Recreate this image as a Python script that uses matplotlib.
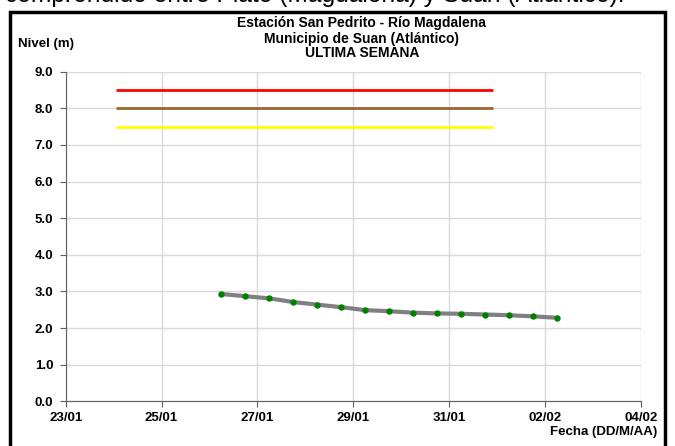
import matplotlib
matplotlib.use("Agg")
import matplotlib.pyplot as plt
import matplotlib.dates as mdates
from matplotlib.patches import Rectangle
import pandas as pd

plt.rcParams["font.family"] = ["Liberation Sans", "DejaVu Sans"]

# measured levels (m), every 12 h
fechas = ["2011-01-26 06:00", "2011-01-26 18:00", "2011-01-27 06:00", "2011-01-27 18:00",
          "2011-01-28 06:00", "2011-01-28 18:00", "2011-01-29 06:00", "2011-01-29 18:00",
          "2011-01-30 06:00", "2011-01-30 18:00", "2011-01-31 06:00", "2011-01-31 18:00",
          "2011-02-01 06:00", "2011-02-01 18:00", "2011-02-02 06:00"]
nivel = [2.93, 2.87, 2.81, 2.71, 2.64, 2.57, 2.49, 2.46, 2.42, 2.40, 2.39, 2.37, 2.35, 2.32, 2.28]

# alert thresholds
umbral_inicio = "2011-01-24 01:00"
umbral_fin = "2011-01-31 22:00"
umbral_valores = [8.5, 8.0, 7.5]
umbral_colores = ["#ff0000", "#996633", "#ffff00"]

titulo = ["Estación San Pedrito - Río Magdalena", "Municipio de Suan (Atlántico)", "ULTIMA SEMANA"]

x_min, x_max = "2011-01-23", "2011-02-04"

fig = plt.figure(figsize=(6.75, 4.46), dpi=100)
ax = fig.add_axes([0.0973, 0.1002, 0.8523, 0.739])

t = pd.to_datetime(fechas)
t0, t1 = pd.to_datetime(umbral_inicio), pd.to_datetime(umbral_fin)
for v, c in zip(umbral_valores, umbral_colores):
    ax.plot([t0, t1], [v, v], color=c, lw=2, solid_capstyle="butt", zorder=3)

ax.plot(t, nivel, color="#808080", lw=3, zorder=3)
ax.plot(t, nivel, "o", color="#008000", ms=3.6, zorder=4)

ax.set_xlim(pd.to_datetime(x_min), pd.to_datetime(x_max))
ax.set_ylim(0, 9)
ax.set_yticks(range(0, 10))
ax.yaxis.set_major_formatter(matplotlib.ticker.FormatStrFormatter("%.1f"))
ax.set_xticks(pd.date_range(x_min, x_max, freq="2D"))
ax.xaxis.set_major_formatter(mdates.DateFormatter("%d/%m"))

ax.grid(True, color="#d9d9d9", lw=1)
ax.set_axisbelow(True)
for s in ["top", "right"]:
    ax.spines[s].set_visible(False)
for s in ["left", "bottom"]:
    ax.spines[s].set_color("#606060")
ax.tick_params(direction="out", length=4, color="#606060", labelsize=9.5)
ax.tick_params(axis="y", pad=5)
ax.tick_params(axis="x", pad=4)
for lab in ax.get_xticklabels() + ax.get_yticklabels():
    lab.set_fontweight("bold")

for i, (line, yb) in enumerate(zip(titulo, [0.9388, 0.9043, 0.8715])):
    fig.text(0.536, yb, line, ha="center", va="baseline", fontsize=10, fontweight="bold")
fig.text(0.027, 0.8953, "Nivel (m)", ha="left", va="baseline", fontsize=9.5, fontweight="bold")
fig.text(0.9738, 0.0247, "Fecha (DD/M/AA)", ha="right", va="baseline", fontsize=9.5, fontweight="bold")
fig.text(0.008, 1.012, "comprendido entre Plato (Magdalena) y Suan (Atlántico).",
         ha="left", va="center", fontsize=17.7)

fig.add_artist(Rectangle((0.0148, -0.05), 0.9702, 1.023, transform=fig.transFigure,
                         fill=False, edgecolor="black", lw=2.5))

fig.savefig("out.png", dpi=100)
